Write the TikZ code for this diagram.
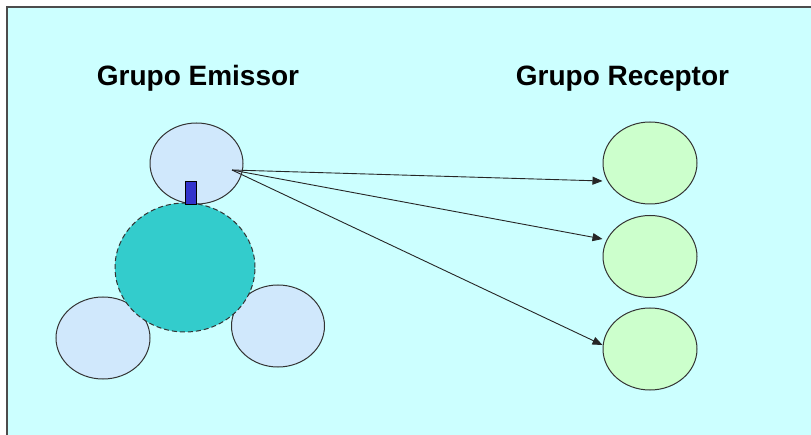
\documentclass[tikz,border=0pt]{standalone}
\usepackage{fontspec}
\setmainfont{Liberation Sans}
\usetikzlibrary{shapes.geometric,arrows.meta}
\definecolor{bgcyan}{HTML}{CCFFFF}
\definecolor{lblue}{HTML}{D0E8FC}
\definecolor{teal2}{HTML}{33CCCC}
\definecolor{lgreen}{HTML}{CCFFCC}
\definecolor{dblue}{HTML}{3333CC}
\definecolor{edge}{HTML}{333333}
\tikzset{
  blob/.style={ellipse, draw=edge, line width=1pt, inner sep=0pt},
  emit/.style={blob, fill=lblue},
  recv/.style={blob, fill=lgreen, minimum width=94pt, minimum height=82pt},
  core/.style={blob, fill=teal2, dash pattern=on 5pt off 3pt},
  title/.style={font=\bfseries\fontsize{28}{30}\selectfont, anchor=base, inner sep=0pt},
  link/.style={draw=black!85, line width=0.9pt, -{Triangle[length=10pt,width=8pt]}},
  frameline/.style={draw=black!70, line width=2pt}
}
\begin{document}
\begin{tikzpicture}[x=1pt,y=-1pt]
\useasboundingbox (0,0) rectangle (811,435);
\fill[white] (0,0) rectangle (811,435);
\fill[bgcyan] (7,7) rectangle (811,435);
\coordinate (tl) at (7,7);
\coordinate (tr) at (811,7);
\coordinate (bl) at (7,435);
\draw[frameline] (tr) -- (tl) -- (bl);

\node[title] (temis) at (198,86) {Grupo Emissor};
\node[title] (trec) at (622.5,86) {Grupo Receptor};

\node[emit, minimum width=94pt, minimum height=82pt] (bl1) at (103,338) {};
\node[emit, minimum width=93pt, minimum height=82pt] (br1) at (278,326) {};
\node[emit, minimum width=93pt, minimum height=81pt] (top) at (196.5,163.5) {};
\node[core, minimum width=140pt, minimum height=129pt] (c) at (185,267.5) {};
\node[draw=black, line width=0.9pt, fill=dblue, minimum width=11pt, minimum height=23pt, inner sep=0pt] (rect) at (190.5,192.5) {};

\node[recv] (r1) at (650,163) {};
\node[recv] (r2) at (650,256.5) {};
\node[recv] (r3) at (650,349) {};

\coordinate (src) at ([xshift=35.5pt,yshift=-6.5pt]top.center);
\draw[link] (src) -- ([yshift=-18pt]r1.west);
\draw[link] (src) -- ([yshift=17.5pt]r2.west);
\draw[link] (src) -- ([yshift=4pt]r3.west);
\end{tikzpicture}
\end{document}
